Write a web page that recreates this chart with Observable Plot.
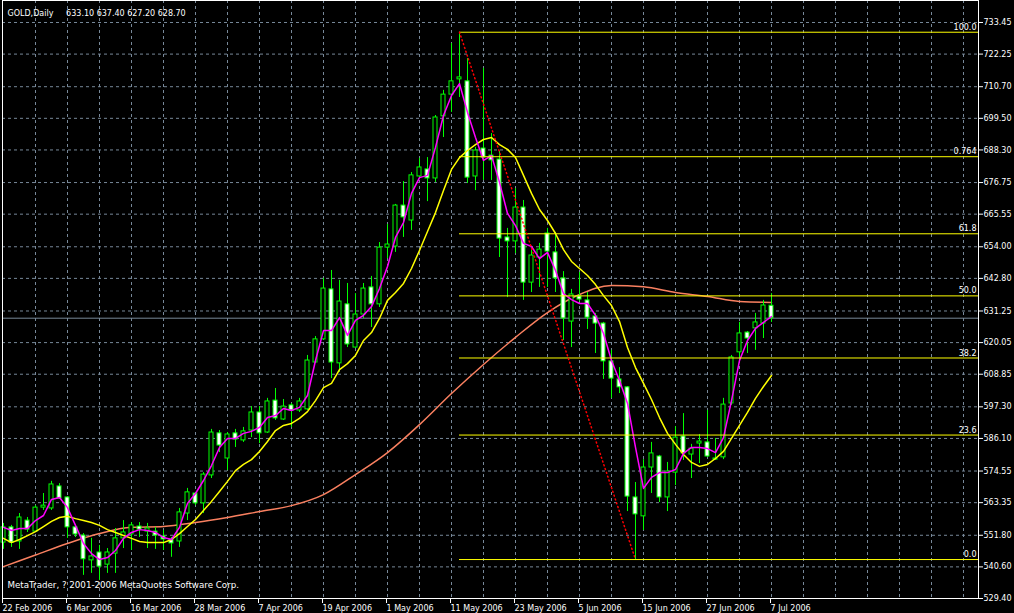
<!DOCTYPE html>
<html><head><meta charset="utf-8">
<script src="https://cdn.jsdelivr.net/npm/d3@7"></script>
<script src="https://cdn.jsdelivr.net/npm/@observablehq/plot@0.6"></script>
<style>
html,body{margin:0;padding:0;background:#000;}
svg text{white-space:pre;}
</style>
</head><body>
<div id="chart"></div>
<script>
const symbol = "GOLD,Daily";
const copyright = "MetaTrader, ? 2001-2006 MetaQuotes Software Corp.";
const dateLabels = ["22 Feb 2006","6 Mar 2006","16 Mar 2006","28 Mar 2006","7 Apr 2006","19 Apr 2006","1 May 2006","11 May 2006","23 May 2006","5 Jun 2006","15 Jun 2006","27 Jun 2006","7 Jul 2006"];
const labelBars = [0,8,16,24,32,40,48,56,64,72,80,88,96];
const priceTicks = [733.45,722.25,710.70,699.50,688.30,676.75,665.55,654.00,642.80,631.25,620.05,608.85,597.30,586.10,574.55,563.35,551.80,540.60,529.40];

const open = [
549.2,554.6,549.6,557.0,553.1,561.6,561.3,569.1,565.2,554.6,
551.7,542.9,545.7,541.4,545.3,550.7,552.1,554.9,553.1,553.1,
551.4,550.3,549.6,559.5,566.6,563.1,573.0,587.9,579.0,587.9,
585.4,588.9,595.3,588.2,599.5,592.8,597.8,596.0,596.4,613.0,
621.2,638.9,612.7,633.6,618.3,630.0,639.6,633.6,653.7,654.1,
668.6,663.3,678.9,681.4,678.2,700.2,707.9,713.3,712.6,678.9,
688.8,686.3,684.9,657.3,655.9,667.9,641.3,650.2,658.7,652.0,
642.8,627.5,636.4,635.0,629.3,626.8,613.4,607.0,604.2,565.2,
558.5,575.8,579.7,565.2,574.0,586.8,580.4,584.3,584.7,578.6,
579.4,598.5,616.6,623.6,625.1,626.8,633.10];
const high = [
556.0,555.3,559.5,558.1,562.3,566.6,570.9,570.1,565.5,555.3,
552.4,550.7,548.2,547.1,554.2,557.0,556.3,556.3,556.0,554.6,
553.5,551.0,561.3,568.4,567.0,574.0,589.3,588.9,588.2,589.3,
590.0,597.4,597.4,600.3,603.8,599.9,598.5,600.3,615.5,622.2,
642.8,645.6,642.1,641.0,637.4,641.0,643.5,655.5,661.9,669.0,
677.1,680.3,685.3,685.6,700.5,709.4,726.0,729.9,720.7,689.2,
717.2,694.1,687.8,660.5,674.6,670.4,652.7,655.2,660.5,659.1,
645.2,638.9,644.9,637.8,630.4,627.2,617.3,611.2,604.5,570.5,
578.6,584.7,580.1,577.6,590.3,594.9,584.0,587.5,596.0,586.1,
600.3,615.5,627.2,624.0,630.4,635.0,637.40];
const low = [
546.8,547.5,546.8,552.8,552.8,560.6,560.6,564.5,550.7,551.0,
537.6,538.3,535.8,538.3,538.3,547.1,546.4,551.0,547.1,546.8,
546.4,544.0,547.5,557.0,562.3,559.5,571.9,581.1,574.7,582.9,
584.7,586.4,584.3,587.9,592.5,592.5,590.0,595.3,596.0,612.7,
620.8,607.3,609.5,618.3,618.0,628.6,625.4,632.5,649.8,652.0,
657.3,659.8,678.2,670.0,676.8,692.7,701.6,706.9,676.4,673.9,
677.5,677.5,650.2,636.0,651.6,635.0,637.8,639.6,639.6,637.8,
620.8,618.3,634.5,624.7,616.2,607.0,600.3,602.0,560.2,543.2,
553.5,566.6,563.4,560.2,569.4,578.3,571.9,577.2,579.4,578.3,
578.6,597.8,613.7,616.2,617.3,621.5,627.20];
const close = [
554.6,549.2,558.1,553.8,561.6,562.3,569.8,564.8,554.6,552.1,
543.3,544.3,540.7,545.7,550.7,552.8,555.3,553.8,554.2,551.7,
550.3,548.9,559.9,567.0,563.1,573.3,588.2,583.6,587.5,585.7,
588.6,595.3,587.9,599.2,593.2,597.4,596.0,599.2,613.7,621.2,
639.2,613.0,634.6,619.4,630.0,639.2,633.6,653.7,654.8,668.6,
664.4,679.3,682.1,678.2,699.8,707.9,712.6,714.0,678.5,688.1,
685.6,684.6,656.9,655.9,667.9,641.3,650.9,653.0,652.3,642.8,
628.6,637.1,635.3,628.9,626.8,613.4,607.3,604.2,565.5,559.2,
575.8,580.8,565.2,574.4,586.4,580.8,582.5,585.0,579.7,579.0,
598.1,614.8,623.3,621.5,627.2,633.2,628.70];

// moving averages
const maFast = [
554.6,553.5,554.2,554.2,557.0,558.8,564.5,565.2,561.6,555.3,
548.9,545.3,543.2,543.9,546.4,550.7,552.8,553.8,553.5,552.8,
551.0,550.3,554.6,563.1,566.6,571.2,576.5,582.9,586.1,586.1,
587.9,588.6,590.0,593.5,594.2,596.7,596.0,597.1,601.3,613.7,
624.3,624.3,628.9,622.6,627.9,629.7,632.8,639.2,647.0,657.3,
662.6,672.9,678.5,679.3,689.2,700.5,707.6,711.8,701.6,692.7,
684.6,686.3,676.8,665.8,661.5,655.2,654.1,649.8,652.0,645.6,
637.4,635.3,633.9,633.9,629.7,623.3,613.7,606.6,598.5,582.9,
568.4,572.3,574.0,574.0,575.1,580.8,582.9,582.9,582.5,581.1,
586.4,599.5,613.7,620.8,625.1,627.2,629.3];
const maMid = [
550.7,549.2,550.3,551.7,553.1,554.9,556.7,558.1,558.5,557.7,
557.0,556.3,555.3,553.8,552.8,551.7,550.7,549.6,549.2,549.2,
549.2,550.3,552.4,554.9,557.4,560.6,563.8,567.3,570.9,574.7,
576.9,578.6,581.5,585.0,588.9,590.7,591.4,593.2,595.6,599.5,
604.1,605.6,610.5,612.6,615.5,620.8,623.6,628.6,635.0,637.8,
641.0,646.3,652.7,659.4,666.1,673.9,681.4,685.6,688.1,690.2,
692.0,692.7,690.2,688.5,685.6,679.3,672.9,667.2,663.3,658.7,
653.0,648.8,646.3,643.8,640.6,636.7,633.2,627.5,618.3,611.2,
605.6,599.9,593.5,587.9,584.0,580.4,577.6,576.2,576.9,579.0,
581.5,586.1,590.7,595.3,600.3,604.5,608.4];
const maSlowBars = [0,4,8,12,16,20,24,28,32,36,40,44,48,52,56,60,64,68,72,76,80,84,88,92,96];
const maSlow = [540.7,544.8,548.9,552.4,554.6,554.9,556.3,558.1,560.2,562.3,566.2,573.3,581.1,591.0,602.0,612.3,621.9,630.7,637.1,640.3,639.8,637.8,636.4,634.6,634.3];

// Fibonacci retracement
const fibLevels = [730.0,685.9,658.6,636.6,614.6,587.3,543.2];
const fibLabels = ["100.0","0.764","61.8","50.0","38.2","23.6","0.0"];
const fibFromBar = 57, fibToBar = 79;

const xDomain = [-0.125, 121.875];
const bars = open.map((o, i) => ({i, open: o, high: high[i], low: low[i], close: close[i]}));
const bulls = bars.filter(d => d.close >= d.open);
const bears = bars.filter(d => d.close < d.open);
const last = bars[bars.length - 1];
const title = symbol + "     " + [last.open, last.high, last.low, last.close].map(v => v.toFixed(2)).join(" ");
const fibTrend = [{bar: fibFromBar, price: fibLevels[0]}, {bar: fibToBar, price: fibLevels[fibLevels.length - 1]}];

const GRID = "#778899", GREEN = "#00ff00";
const chart = Plot.plot({
  width: 1014, height: 613,
  marginLeft: 2, marginRight: 36, marginTop: 0, marginBottom: 15,
  style: {background: "#000", color: "#fff", fontFamily: "DejaVu Sans, sans-serif", fontSize: "8px"},
  x: {type: "linear", domain: xDomain},
  y: {domain: [529.40, 741.24]},
  marks: [
    Plot.gridY(priceTicks, {stroke: GRID, strokeOpacity: 1, strokeDasharray: "3,3"}),
    Plot.gridX(d3.range(4, 121, 4), {stroke: GRID, strokeOpacity: 1, strokeDasharray: "3,3"}),
    Plot.ruleY([last.close], {stroke: GRID}),
    Plot.lineY(maSlow, {x: (d, k) => maSlowBars[k], y: d => d, stroke: "#fa8060", curve: "monotone-x"}),
    Plot.ruleX(bars, {x: "i", y1: "low", y2: "high", stroke: GREEN}),
    Plot.rect(bulls, {x1: d => d.i - 0.5, x2: d => d.i + 0.5, y1: "open", y2: "close", insetLeft: 2, insetRight: 2, fill: "#000", stroke: GREEN}),
    Plot.rect(bears, {x1: d => d.i - 0.5, x2: d => d.i + 0.5, y1: "open", y2: "close", insetLeft: 2, insetRight: 2, fill: "#fff", stroke: GREEN}),
    Plot.lineY(maMid, {x: (d, k) => k, y: d => d, stroke: "#ffff00"}),
    Plot.lineY(maFast, {x: (d, k) => k, y: d => d, stroke: "#ff00ff"}),
    Plot.ruleY(fibLevels, {x1: () => fibFromBar, x2: () => xDomain[1], y: d => d, stroke: "#ffff00"}),
    Plot.line(fibTrend, {x: "bar", y: "price", stroke: "#ff0000", strokeDasharray: "1,3"}),
    Plot.text(fibLevels, {y: d => d, text: (d, k) => fibLabels[k], frameAnchor: "right", textAnchor: "end", dx: -2, dy: -5, fill: "#fff"}),
    Plot.frame({stroke: "#fff"}),
    Plot.axisY(priceTicks, {anchor: "right", tickSize: 4, tickPadding: 1, tickFormat: d => d.toFixed(2), color: "#fff"}),
    Plot.axisX(labelBars, {anchor: "bottom", tickSize: 5, tickPadding: 2, tickFormat: d => dateLabels[labelBars.indexOf(d)], textAnchor: "start", dx: -1, color: "#fff"}),
    Plot.text([title], {frameAnchor: "top-left", dx: 5, dy: 10, textAnchor: "start", fill: "#fff"}),
    Plot.text([copyright], {frameAnchor: "bottom-left", dx: 5, dy: -11, textAnchor: "start", fill: "#fff", fontSize: 8.7}),
    Plot.text([last.close], {y: d => d, text: d => d.toFixed(2), frameAnchor: "right", dx: 4, textAnchor: "start", fill: "#000", ariaLabel: "price-box"})
  ]
});
document.getElementById("chart").appendChild(chart);
// white box behind the current price label
const boxText = chart.querySelector('[aria-label="price-box"] text');
if (boxText) {
  const bb = boxText.getBBox();
  const r = document.createElementNS("http://www.w3.org/2000/svg", "rect");
  r.setAttribute("x", bb.x - 2); r.setAttribute("y", bb.y - 1);
  r.setAttribute("width", bb.width + 4); r.setAttribute("height", bb.height + 2);
  r.setAttribute("fill", "#fff");
  boxText.parentNode.insertBefore(r, boxText);
}
</script>
</body></html>
